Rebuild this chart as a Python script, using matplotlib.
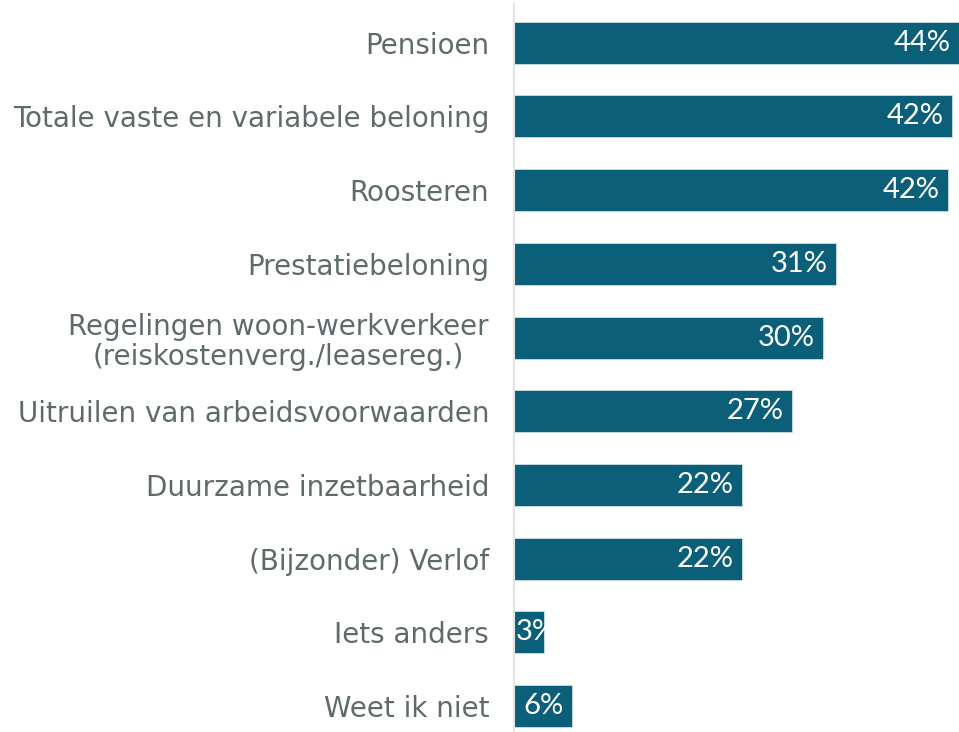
import matplotlib.pyplot as plt
import numpy as np

# categories and values (percent)
categories = ['Pensioen', 'Totale vaste en variabele beloning', 'Roosteren',
              'Prestatiebeloning', 'Regelingen woon-werkverkeer\n(reiskostenverg./leasereg.)',
              'Uitruilen van arbeidsvoorwaarden', 'Duurzame inzetbaarheid',
              '(Bijzonder) Verlof', 'Iets anders', 'Weet ik niet']
values = [44, 42.4, 42, 31.2, 29.9, 26.9, 22.1, 22.1, 2.9, 5.6]
labels = ['44%', '42%', '42%', '31%', '30%', '27%', '22%', '22%', '3%', '6%']

bar_color = '#0b5f78'
text_color = '#5f6b6b'

fig = plt.figure(figsize=(9.59, 7.32), dpi=100)
ax = fig.add_axes([0.536, 0.0, 0.464, 1.0])

y = np.arange(len(categories))
ax.barh(y, values, height=0.57, color=bar_color, edgecolor='#cfdfe5', linewidth=0.6)

ax.set_xlim(0, 43.1)
ax.set_ylim(9.35, -0.58)

for yi, v, lab in zip(y, values, labels):
    if v < 4:
        ax.text(0.2, yi, lab, ha='left', va='center', color='white', fontsize=21,
                family=['Lato', 'DejaVu Sans'])
    else:
        ax.text(min(v, 43.1) - 0.8, yi, lab, ha='right', va='center', color='white',
                fontsize=21, family=['Lato', 'DejaVu Sans'])

ax.set_yticks(y)
ax.set_yticklabels(categories, fontsize=20, color=text_color, linespacing=1.1)
for t in ax.get_yticklabels():
    t.set_multialignment('center')
ax.tick_params(axis='y', length=0, pad=18)
ax.set_xticks([])
for s in ['top', 'right', 'bottom']:
    ax.spines[s].set_visible(False)
ax.spines['left'].set_color('#e3e3e3')
ax.spines['left'].set_linewidth(1.5)
ax.spines['left'].set_bounds(9.35, -0.52)

fig.savefig('out.png', dpi=100)
